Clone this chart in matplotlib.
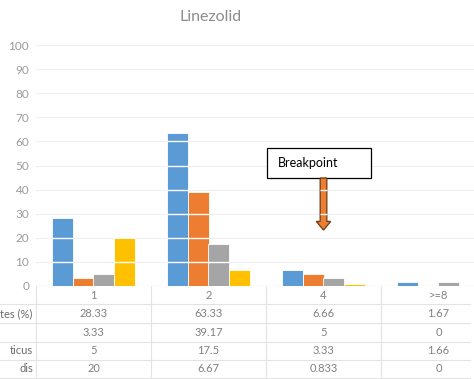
import matplotlib
matplotlib.use("Agg")
import matplotlib.pyplot as plt
from matplotlib.patches import FancyArrow, Rectangle
import numpy as np

# MIC categories and the four series (percent of isolates)
categories = ["1", "2", "4", ">=8"]
row_labels = ["tes (%)", "", "ticus", "dis"]
series = [
    [28.33, 63.33, 6.66, 1.67],
    [3.33, 39.17, 5, 0],
    [5, 17.5, 3.33, 1.66],
    [20, 6.67, 0.833, 0],
]
cell_text = [
    ["28.33", "63.33", "6.66", "1.67"],
    ["3.33", "39.17", "5", "0"],
    ["5", "17.5", "3.33", "1.66"],
    ["20", "6.67", "0.833", "0"],
]
colors = ["#5B9BD5", "#ED7D31", "#A5A5A5", "#FFC000"]
breakpoint_x = 2      # category "4"
breakpoint_top = 44.8
breakpoint_tip = 23.2

W, H = 474, 379
fig = plt.figure(figsize=(W / 100, H / 100), dpi=100)
plt.rcParams["font.family"] = ["Lato", "DejaVu Sans"]

# plot area runs past the right edge, like the cropped original chart
x0, x1, y_bot, y_top = 36, 496, 286, 45
ax = fig.add_axes([x0 / W, (H - y_bot) / H, (x1 - x0) / W, (y_bot - y_top) / H])
ax.set_xlim(-0.5, 3.5)
ax.set_ylim(0, 100)
for s in ax.spines.values():
    s.set_visible(False)
ax.tick_params(axis="both", length=0)
ax.set_xticks([])
ax.set_yticks(range(0, 101, 10))
ax.tick_params(axis="y", labelsize=8.5, labelcolor="#9a9a9a", pad=5)
ax.set_axisbelow(True)
ax.grid(axis="y", color="#efefef", linewidth=0.8)
ax.axhline(0, color="#d9d9d9", linewidth=0.8, zorder=1)

bw = 0.183
offsets = [-0.27, -0.09, 0.09, 0.27]
x = np.arange(len(categories))
levels = np.arange(10, 100, 10)
for vals, off, c in zip(series, offsets, colors):
    ax.bar(x + off, vals, width=bw, color=c, edgecolor="white", linewidth=0.6, zorder=2)
    # white gridlines shown through the bars
    for xi, v in zip(x + off, vals):
        for lv in levels[levels < v]:
            ax.hlines(lv, xi - bw / 2, xi + bw / 2, color="white", linewidth=1, zorder=3)

# breakpoint marker
box = Rectangle((1.509, 44.8), 0.904, 12.5, facecolor="white", edgecolor="black",
                linewidth=0.9, zorder=4)
ax.add_patch(box)
ax.text(1.60, 51.2, "Breakpoint", fontsize=9, color="black", va="center", ha="left", zorder=5)
head_len = 3.6
arrow = FancyArrow(breakpoint_x, breakpoint_top, 0, breakpoint_tip - breakpoint_top,
                   width=0.058, head_width=0.125, head_length=head_len,
                   length_includes_head=True, facecolor="#ED7D31",
                   edgecolor="#6B3A12", linewidth=0.9, zorder=4)
ax.add_patch(arrow)
for lv in (30, 40):
    ax.hlines(lv, breakpoint_x - 0.03, breakpoint_x + 0.03, color="white", linewidth=1, zorder=5)

fig.text(211 / W, 1 - 17 / H, "Linezolid", fontsize=11.5, color="#8c8c8c", ha="center", va="center")

# data table under the plot
tb_top, tb_bot = 286, 378
axt = fig.add_axes([x0 / W, (H - tb_bot) / H, (x1 - x0) / W, (tb_bot - tb_top) / H])
axt.set_xlim(-0.5, 3.5)
axt.set_ylim(tb_bot - tb_top, 0)
axt.axis("off")
line_c = "#e3e3e3"
x_left = -0.5 - x0 / 115
x_right = (470 - x0) / 115 - 0.5
row_edges = [18, 37, 56, 74, 92]
for ye in row_edges:
    axt.plot([x_left, x_right], [ye, ye], color=line_c, linewidth=0.8, clip_on=False)
for xb in [-0.5, 0.5, 1.5, 2.5]:
    axt.plot([xb, xb], [0, 92], color=line_c, linewidth=0.8, clip_on=False)

txt_c = "#808080"
for i, cat in enumerate(categories):
    axt.text(i, 9.5, cat, fontsize=8, color=txt_c, ha="center", va="center")
centers = [27.5, 46.5, 65, 83]
for r, (lab, row) in enumerate(zip(row_labels, cell_text)):
    axt.text(-0.528, centers[r], lab, fontsize=8, color="#6a6a6a", ha="right", va="center",
             clip_on=False)
    for i, t in enumerate(row):
        axt.text(i, centers[r], t, fontsize=8, color=txt_c, ha="center", va="center")

fig.savefig("out.png", dpi=100)
